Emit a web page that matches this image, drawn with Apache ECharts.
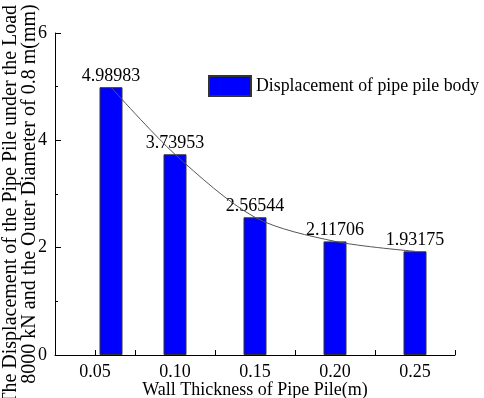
<!DOCTYPE html>
<html>
<head>
<meta charset="utf-8">
<script src="https://cdn.jsdelivr.net/npm/echarts@6/dist/echarts.min.js"></script>
<style>
  html, body { margin: 0; padding: 0; background: #fff; }
  #chart { width: 484px; height: 398px; }
</style>
</head>
<body>
<div id="chart"></div>
<script>
// wall thickness (m) where each bar is drawn; the first bar sits a bit right of 0.05 in the source
const thickness = [0.06, 0.10, 0.15, 0.20, 0.25]
const displacement = [4.98983, 3.73953, 2.56544, 2.11706, 1.93175]
const seriesName = 'Displacement of pipe pile body'

const font = 'Liberation Serif'
const points = thickness.map((t, i) => [t, displacement[i]])

const chart = echarts.init(document.getElementById('chart'))

const option = {
  animation: false,
  textStyle: { fontFamily: font },
  grid: { left: 55, right: 29, top: 33, bottom: 43, containLabel: false, outerBoundsMode: 'none' },
  legend: {
    data: [{ name: seriesName, icon: 'rect' }],
    left: 208,
    top: 75,
    padding: 0,
    itemWidth: 42,
    itemHeight: 20,
    itemGap: 0,
    textStyle: { fontFamily: font, fontSize: 17.8, color: '#000' }
  },
  xAxis: {
    type: 'value',
    min: 0.025,
    max: 0.275,
    interval: 0.025,
    name: 'Wall Thickness of Pipe Pile(m)',
    nameLocation: 'middle',
    nameGap: 26,
    nameMoveOverlap: false,
    nameTextStyle: { fontFamily: font, fontSize: 18, color: '#000' },
    axisLine: { lineStyle: { color: '#000', width: 1 } },
    axisTick: { inside: true, length: 5, lineStyle: { color: '#000' } },
    axisLabel: {
      fontFamily: font, fontSize: 18, color: '#000', margin: 8,
      showMinLabel: true, showMaxLabel: true,
      formatter: v => {
        const k = Math.round(v * 1000)
        return (k % 50 === 0) ? v.toFixed(2) : ''
      }
    },
    splitLine: { show: false }
  },
  yAxis: {
    type: 'value',
    min: 0,
    max: 6,
    interval: 2,
    name: 'The Displacement of the Pipe Pile under the Load of\n8000 kN and the Outer Diameter of 0.8 m(mm)',
    nameLocation: 'middle',
    nameGap: 16,
    nameMoveOverlap: false,
    nameTextStyle: { fontFamily: font, fontSize: 20, color: '#000', lineHeight: 19 },
    axisLine: { show: true, lineStyle: { color: '#000', width: 1 } },
    axisTick: { show: true, inside: true, length: 6, lineStyle: { color: '#000' } },
    minorTick: { show: true, splitNumber: 2, length: 3, lineStyle: { color: '#000' } },
    axisLabel: { fontFamily: font, fontSize: 18, color: '#000', margin: 8 },
    splitLine: { show: false }
  },
  series: [
    {
      name: seriesName,
      type: 'bar',
      data: points,
      barWidth: 23,
      itemStyle: { color: '#0000ff', borderColor: '#333', borderWidth: 1 },
      label: {
        show: true,
        position: 'top',
        distance: 2,
        fontFamily: font,
        fontSize: 18,
        color: '#000',
        formatter: p => String(p.value[1])
      }
    },
    {
      name: 'trend',
      type: 'line',
      data: points,
      smooth: 0.3,
      showSymbol: false,
      lineStyle: { color: '#555', width: 1 },
      z: 3
    }
  ]
}

chart.setOption(option)
</script>
</body>
</html>
